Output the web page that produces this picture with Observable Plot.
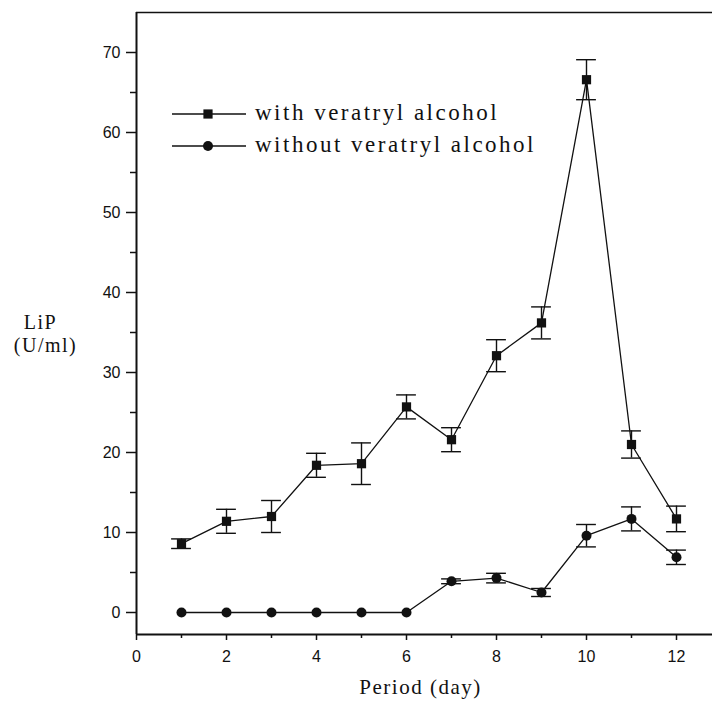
<!DOCTYPE html>
<html>
<head>
<meta charset="utf-8">
<script src="https://cdn.jsdelivr.net/npm/d3@7"></script>
<script src="https://cdn.jsdelivr.net/npm/@observablehq/plot@0.6"></script>
<style>
  html, body { margin: 0; padding: 0; background: #fff; }
  #wrap { position: relative; width: 712px; height: 712px; }
  #legend { position: absolute; left: 0; top: 0; width: 712px; height: 712px; pointer-events: none; }
</style>
</head>
<body>
<div id="wrap"></div>
<script>
const days = [1, 2, 3, 4, 5, 6, 7, 8, 9, 10, 11, 12];
const withVA = [8.6, 11.4, 12.0, 18.4, 18.6, 25.7, 21.6, 32.1, 36.2, 66.6, 21.0, 11.7];
const withVAErr = [0.6, 1.5, 2.0, 1.5, 2.6, 1.5, 1.5, 2.0, 2.0, 2.5, 1.7, 1.6];
const withoutVA = [0, 0, 0, 0, 0, 0, 3.9, 4.3, 2.5, 9.6, 11.7, 6.9];
const withoutVAErr = [0, 0, 0, 0, 0, 0, 0.3, 0.6, 0.5, 1.4, 1.5, 0.9];
const xTicks = [0, 2, 4, 6, 8, 10, 12];
const xMinor = [1, 3, 5, 7, 9, 11];
const yTicks = [0, 10, 20, 30, 40, 50, 60, 70];
const yMinor = [5, 15, 25, 35, 45, 55, 65];
const seriesNames = ["with veratryl alcohol", "without veratryl alcohol"];
const xLabel = "Period (day)";
const yLabel1 = "LiP";
const yLabel2 = "(U/ml)";

const sWith = days.map((d, i) => ({day: d, v: withVA[i], lo: withVA[i] - withVAErr[i], hi: withVA[i] + withVAErr[i], err: withVAErr[i]}));
const sWithout = days.map((d, i) => ({day: d, v: withoutVA[i], lo: withoutVA[i] - withoutVAErr[i], hi: withoutVA[i] + withoutVAErr[i], err: withoutVAErr[i]}));

const capHalf = 0.22;
const yMin = -2.75, yMax = 75;
const serif = "'Liberation Serif', 'Times New Roman', serif";

function errMarks(data) {
  const d = data.filter(r => r.err > 0);
  return [
    Plot.ruleX(d, {x: "day", y1: "lo", y2: "hi", stroke: "#111", strokeWidth: 1.4}),
    Plot.ruleY(d, {y: "hi", x1: r => r.day - capHalf, x2: r => r.day + capHalf, stroke: "#111", strokeWidth: 1.4}),
    Plot.ruleY(d, {y: "lo", x1: r => r.day - capHalf, x2: r => r.day + capHalf, stroke: "#111", strokeWidth: 1.4})
  ];
}

const chart = Plot.plot({
  width: 712,
  height: 712,
  marginTop: 12,
  marginBottom: 78,
  marginLeft: 136,
  marginRight: 0,
  style: {fontFamily: "'Liberation Sans', Arial, sans-serif", fontSize: "16px", color: "#111", background: "#fff", overflow: "visible"},
  x: {domain: [0, 12.8]},
  y: {domain: [yMin, yMax]},
  marks: [
    Plot.axisX({ticks: xTicks, tickSize: 6, tickPadding: 10, tickFormat: d => d, label: null, strokeWidth: 1.5}),
    Plot.axisX({ticks: xMinor, tickSize: 4, text: null, label: null, strokeWidth: 1.5}),
    Plot.axisY({ticks: yTicks, tickSize: 10, tickPadding: 6, tickFormat: d => d, label: null, strokeWidth: 1.5}),
    Plot.axisY({ticks: yMinor, tickSize: 6, text: null, label: null, strokeWidth: 1.5}),
    Plot.ruleX([0], {stroke: "#111", strokeWidth: 2}),
    Plot.ruleY([yMin], {stroke: "#111", strokeWidth: 2}),
    Plot.ruleY([yMax], {stroke: "#111", strokeWidth: 1.5}),
    Plot.line(sWith, {x: "day", y: "v", stroke: "#111", strokeWidth: 1.3}),
    Plot.line(sWithout, {x: "day", y: "v", stroke: "#111", strokeWidth: 1.3}),
    ...errMarks(sWith),
    ...errMarks(sWithout),
    Plot.dot(sWith, {x: "day", y: "v", symbol: "square", r: 5.2, fill: "#111", stroke: "none"}),
    Plot.dot(sWithout, {x: "day", y: "v", symbol: "circle", r: 5, fill: "#111", stroke: "none"}),
    Plot.text([yLabel1], {frameAnchor: "left", textAnchor: "middle", dx: -96, dy: -1, fontFamily: serif, fontSize: 20, fill: "#111", text: d => d}),
    Plot.text([yLabel2], {frameAnchor: "left", textAnchor: "middle", dx: -91, dy: 22, fontFamily: serif, fontSize: 20, fill: "#111", text: d => d}),
    Plot.text([xLabel], {frameAnchor: "bottom", textAnchor: "middle", dx: -4, dy: 59, fontFamily: serif, fontSize: 21, fill: "#111", text: d => d})
  ]
});

chart.querySelectorAll("text").forEach(t => {
  const c = t.textContent;
  if (c === yLabel1 || c === yLabel2 || c === xLabel) t.style.letterSpacing = "1.5px";
});

const wrap = document.getElementById("wrap");
wrap.appendChild(chart);

// Legend overlay
const leg = d3.create("svg").attr("id", "legend").attr("width", 712).attr("height", 712);
const rows = [
  {name: seriesNames[0], y: 114, sym: "square"},
  {name: seriesNames[1], y: 146, sym: "circle"}
];
rows.forEach(r => {
  leg.append("line").attr("x1", 172).attr("x2", 246).attr("y1", r.y).attr("y2", r.y)
    .attr("stroke", "#111").attr("stroke-width", 1.3);
  if (r.sym === "square") {
    leg.append("rect").attr("x", 208 - 4.6).attr("y", r.y - 4.6).attr("width", 9.2).attr("height", 9.2).attr("fill", "#111");
  } else {
    leg.append("circle").attr("cx", 208).attr("cy", r.y).attr("r", 5).attr("fill", "#111");
  }
  leg.append("text").attr("x", 255).attr("y", r.y + 6).text(r.name)
    .attr("font-family", serif).attr("font-size", 23).attr("fill", "#111")
    .style("letter-spacing", "2.5px");
});
wrap.appendChild(leg.node());
</script>
</body>
</html>
